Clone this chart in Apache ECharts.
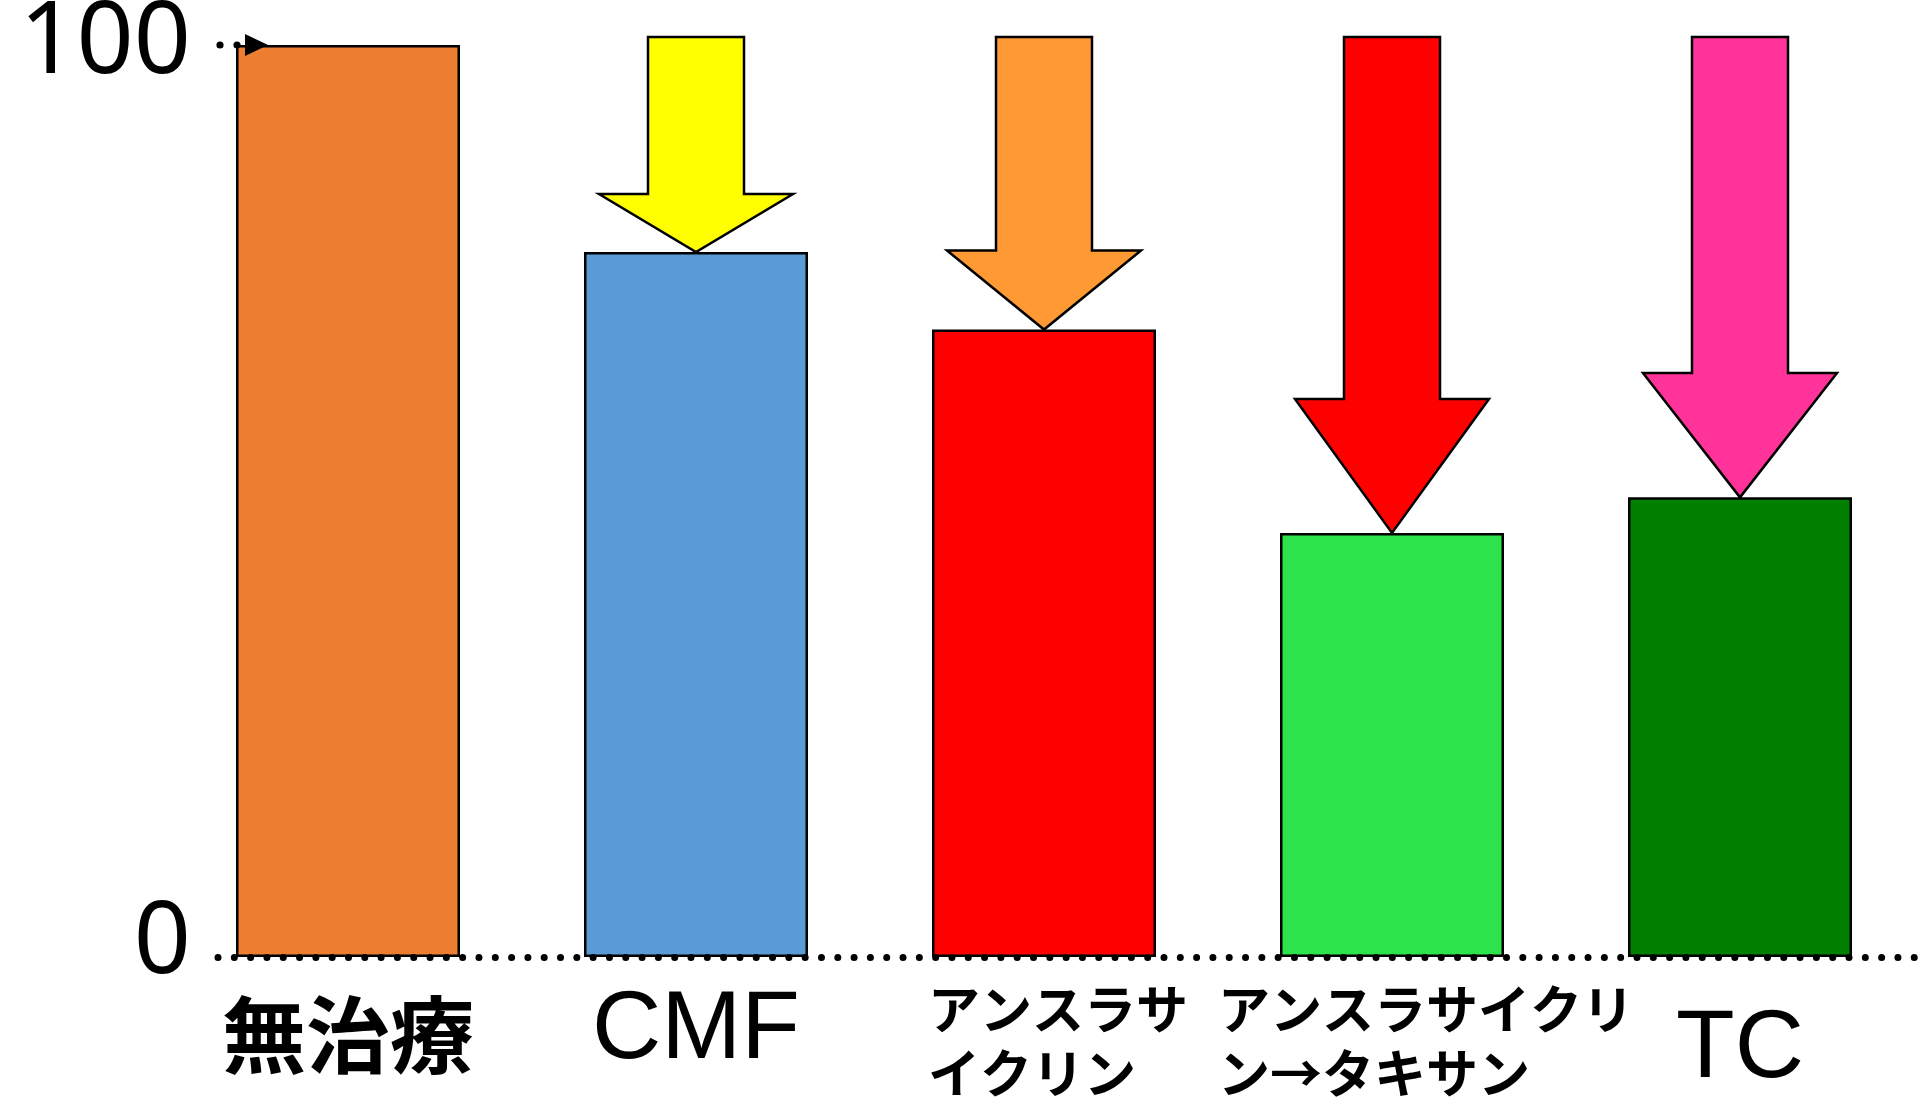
<!DOCTYPE html>
<html>
<head>
<meta charset="utf-8">
<script src="https://cdn.jsdelivr.net/npm/echarts@6/dist/echarts.min.js"></script>
<style>
  html, body { margin: 0; padding: 0; background: #ffffff; }
  #chart { width: 1921px; height: 1110px; }
</style>
</head>
<body>
<div id="chart"></div>
<script>
// ---- data ----
const categories = ['無治療', 'CMF', 'アンスラサイクリン', 'アンスラサイクリン→タキサン', 'TC'];
const values = [100, 77.3, 68.8, 46.5, 50.4];
const yTicks = [0, 100];
const barColors = ['#ED7D31', '#5B9BD5', '#FF0000', '#2DE34B', '#007F00'];
const arrowColors = ['#FFFF00', '#FF9933', '#FF0000', '#FF3399'];

// ---- label text (rich) ----
const labelRich = {
  '無治療': '{kanji|無治療}',
  'CMF': '{latin|CMF}',
  'アンスラサイクリン': '{kanaA|アンスラサ}\n{kanaA|イクリン　}',
  'アンスラサイクリン→タキサン': '{kanaB|アンスラサイクリ}\n{kanaB|ン→タキサン　　}',
  'TC': '{tc|TC}'
};

const chart = echarts.init(document.getElementById('chart'), null, { renderer: 'canvas' });

const barData = values.map((v, i) => ({
  value: v,
  itemStyle: { color: barColors[i] }
}));

const arrowData = values.slice(1).map((v, k) => ({
  value: [k + 1, v],
  itemStyle: { color: arrowColors[k] }
}));

function renderArrow(params, api) {
  const i = api.value(0), v = api.value(1);
  const tip = api.coord([i, v]);
  const top = api.coord([i, yTicks[yTicks.length - 1]]);
  const x = tip[0];
  const yTop = top[1] - 8;
  const yTip = tip[1];
  const headH = (yTip - yTop) * 0.27;
  const yHead = yTip - headH;
  const sw = 48, hw = 97;
  return {
    type: 'polygon',
    shape: { points: [[x - sw, yTop], [x + sw, yTop], [x + sw, yHead], [x + hw, yHead], [x, yTip], [x - hw, yHead], [x - sw, yHead]] },
    style: { fill: api.visual('color'), stroke: '#000', lineWidth: 2.5 }
  };
}

function renderTopMarker(params, api) {
  const p = api.coord([api.value(0), api.value(1)]);
  const x = p[0], y = p[1];
  return {
    type: 'group',
    children: [
      { type: 'circle', shape: { cx: x - 128, cy: y, r: 3.6 }, style: { fill: '#000' } },
      { type: 'circle', shape: { cx: x - 111, cy: y, r: 3.6 }, style: { fill: '#000' } },
      { type: 'polygon', shape: { points: [[x - 103, y - 11], [x - 80, y], [x - 103, y + 11]] }, style: { fill: '#000' } }
    ]
  };
}

const option = {
  animation: false,
  backgroundColor: '#ffffff',
  grid: [
    { left: 174, right: 7, top: 45, bottom: 153, containLabel: false, outerBoundsMode: 'none' },
    { left: 218, right: 0, top: 45, bottom: 153, containLabel: false, outerBoundsMode: 'none' }
  ],
  xAxis: [
    {
      type: 'category',
      gridIndex: 0,
      data: categories,
      boundaryGap: true,
      axisLine: { show: false },
      axisTick: { show: false },
      axisLabel: {
        interval: 0,
        margin: 20,
        color: '#000',
        formatter: (val) => labelRich[val],
        rich: {
          kanji: { fontSize: 84, fontWeight: 'bold', fontFamily: 'Noto Sans CJK JP', lineHeight: 116, color: '#000' },
          latin: { fontSize: 96, fontFamily: 'Liberation Sans', lineHeight: 110, color: '#000' },
          tc: { fontSize: 96, fontFamily: 'Liberation Sans', lineHeight: 148, color: '#000' },
          kanaA: { fontSize: 52, fontWeight: 'bold', fontFamily: 'Noto Sans CJK JP', lineHeight: 64, padding: [0, 0, 0, 28], color: '#000' },
          kanaB: { fontSize: 52, fontWeight: 'bold', fontFamily: 'Noto Sans CJK JP', lineHeight: 64, padding: [0, 0, 0, 68], color: '#000' }
        }
      }
    },
    {
      type: 'value',
      gridIndex: 1,
      min: 0,
      max: 1,
      z: 10,
      axisLine: { show: true, onZero: false, lineStyle: { color: '#000', width: 7, type: [0.01, 16.3], cap: 'round' } },
      axisTick: { show: false },
      axisLabel: { show: false },
      splitLine: { show: false }
    }
  ],
  yAxis: [
    {
      type: 'value',
      gridIndex: 0,
      min: yTicks[0],
      max: yTicks[yTicks.length - 1],
      interval: 100,
      axisLine: { show: false },
      axisTick: { show: false },
      splitLine: { show: false },
      axisLabel: {
        margin: -17,
        color: '#000',
        fontSize: 100,
        fontFamily: 'Noto Sans',
        formatter: (v) => (v === 0 ? '{zero|0}' : '{top|' + v + '}'),
        rich: {
          zero: { fontSize: 100, fontFamily: 'Noto Sans', color: '#000', padding: [0, 0, 24, 0] },
          top: { fontSize: 100, fontFamily: 'Noto Sans', color: '#000' }
        }
      }
    },
    {
      type: 'value',
      gridIndex: 1,
      min: 0,
      max: 1,
      show: false
    }
  ],
  series: [
    {
      type: 'bar',
      xAxisIndex: 0,
      yAxisIndex: 0,
      data: barData,
      barWidth: 224,
      itemStyle: { borderColor: '#000', borderWidth: 2.5 },
      z: 2
    },
    {
      type: 'custom',
      xAxisIndex: 0,
      yAxisIndex: 0,
      data: arrowData,
      renderItem: renderArrow,
      z: 4
    },
    {
      type: 'custom',
      xAxisIndex: 0,
      yAxisIndex: 0,
      data: [[0, values[0]]],
      renderItem: renderTopMarker,
      z: 5
    }
  ]
};

chart.setOption(option);
</script>
</body>
</html>
